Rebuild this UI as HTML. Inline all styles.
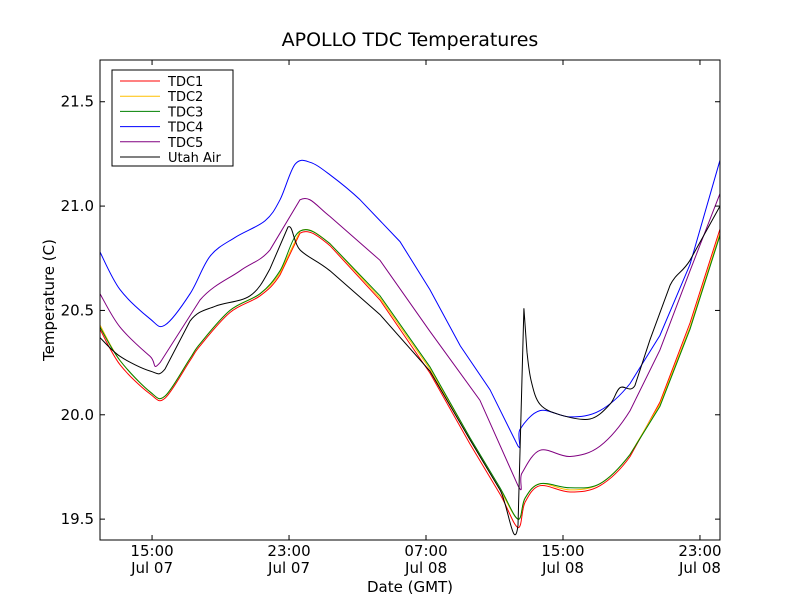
<!DOCTYPE html>
<html><head><meta charset="utf-8"><style>
body{margin:0;background:#fff;font-family:"Liberation Sans","DejaVu Sans",sans-serif}
svg text{font-family:"DejaVu Sans","Liberation Sans",sans-serif}
</style></head><body>
<svg id="chart" width="800" height="600">
<rect width="800" height="600" fill="#fff"/>
<text x="410" y="46" font-size="19" text-anchor="middle">APOLLO TDC Temperatures</text>
<g id="plot"></g>
<rect x="100" y="60" width="620" height="480" fill="none" stroke="#000"/>
<g id="axes"></g>
<text x="410" y="592" font-size="15" text-anchor="middle">Date (GMT)</text>
<text x="54" y="300" font-size="15" text-anchor="middle" transform="rotate(-90 54 300)">Temperature (C)</text>
<g id="legend"></g>
</svg>
<script>
const seriesNames=["TDC1","TDC2","TDC3","TDC4","TDC5","Utah Air"];
const seriesColors=["#ff0000","#ffbf00","#008000","#0000ff","#800080","#000000"];
const hoursA=[11.96,13.13,14.88,15.76,17.22,17.8,19.55,21.31,22.47,23.64,25.39,28.31,31.23,33.57,35.32,36.37,36.78,37.66,39.41,41.16,42.92,44.66,46.42,48.17];
const tdc1=[20.41,20.24,20.1,20.08,20.26,20.33,20.49,20.57,20.67,20.87,20.81,20.55,20.2,19.86,19.62,19.46,19.58,19.66,19.63,19.66,19.8,20.06,20.44,20.89];
const tdc2=[20.43,20.26,20.11,20.09,20.27,20.34,20.5,20.58,20.68,20.88,20.82,20.56,20.22,19.88,19.64,19.5,19.6,19.67,19.64,19.67,19.81,20.05,20.42,20.87];
const tdc3=[20.42,20.26,20.11,20.09,20.27,20.34,20.5,20.58,20.69,20.88,20.82,20.57,20.23,19.89,19.65,19.5,19.6,19.67,19.65,19.67,19.81,20.04,20.41,20.86];
const hoursB=[11.96,13.13,14.88,15.76,17.22,18.39,19.85,21.6,22.47,23.35,24.23,25.39,27.15,29.48,31.23,33,34.74,36.37,36.49,37.66,39.41,41.16,42.92,44.66,46.42,48.17];
const tdc4=[20.78,20.6,20.46,20.43,20.58,20.76,20.85,20.93,21.03,21.2,21.21,21.15,21.03,20.83,20.6,20.33,20.12,19.85,19.93,20.02,19.99,20.02,20.15,20.38,20.72,21.22];
const hoursC=[11.96,13.13,14.88,15.47,17.8,20.14,21.89,23.64,25.39,28.31,31.23,34.15,36.37,36.6,37.66,39.41,41.16,42.92,44.66,46.42,48.17];
const tdc5=[20.58,20.42,20.28,20.25,20.55,20.69,20.79,21.03,20.95,20.74,20.4,20.07,19.66,19.72,19.83,19.8,19.85,20.02,20.31,20.69,21.06];
const hoursD=[11.96,13.13,14.88,15.76,17.22,18.68,20.72,21.89,22.94,23.64,25.39,28.31,31.23,33.57,35.32,36.37,36.72,36.9,37.15,37.66,38.82,40.58,41.74,42.33,43.2,44.08,45.25,46.42,48.17];
const utahAir=[20.37,20.28,20.21,20.22,20.45,20.52,20.57,20.7,20.9,20.79,20.69,20.48,20.21,19.88,19.64,19.47,20.51,20.3,20.16,20.05,20.0,19.98,20.05,20.13,20.14,20.36,20.62,20.74,21.0];
const yTicks=[19.5,20.0,20.5,21.0,21.5];
const xTickHours=[15,23,31,39,47];
const xTickTimes=["15:00","23:00","07:00","15:00","23:00"];
const xTickDates=["Jul 07","Jul 07","Jul 08","Jul 08","Jul 08"];
const X0=100,X1=720,Y0=540,Y1=60,HMIN=11.96,HMAX=48.17,VMIN=19.4,VMAX=21.7;
const sx=h=>X0+(h-HMIN)/(HMAX-HMIN)*(X1-X0);
const sy=v=>Y0-(v-VMIN)/(VMAX-VMIN)*(Y0-Y1);
const NS="http://www.w3.org/2000/svg";
const plot=document.getElementById('plot'),axes=document.getElementById('axes'),legend=document.getElementById('legend');
function mk(t,a,p){const e=document.createElementNS(NS,t);for(const k in a)e.setAttribute(k,a[k]);p.appendChild(e);return e;}
function smooth(P){let d='M'+P[0][0].toFixed(1)+','+P[0][1].toFixed(1);
 for(let i=0;i<P.length-1;i++){const p0=P[Math.max(0,i-1)],p1=P[i],p2=P[i+1],p3=P[Math.min(P.length-1,i+2)];
  const big=Math.abs(p2[1]-p1[1])>40;const k=big?0:1/6;
  const c1=[p1[0]+(p2[0]-p0[0])*k,p1[1]+(p2[1]-p0[1])*k],c2=[p2[0]-(p3[0]-p1[0])*k,p2[1]-(p3[1]-p1[1])*k];
  d+=' C'+c1.map(v=>v.toFixed(1))+' '+c2.map(v=>v.toFixed(1))+' '+p2[0].toFixed(1)+','+p2[1].toFixed(1);}
 return d;}
const data=[[hoursA,tdc1],[hoursA,tdc2],[hoursA,tdc3],[hoursB,tdc4],[hoursC,tdc5],[hoursD,utahAir]];
const order=[3,4,0,1,2,5];
order.forEach(i=>{const [hs,vs]=data[i];
 const pl=mk('path',{d:smooth(hs.map((h,j)=>[sx(h),sy(vs[j])])),fill:'none',stroke:seriesColors[i],'stroke-width':1},plot);
 
 });
yTicks.forEach(v=>{const y=sy(v);
 mk('line',{x1:X0,x2:X0+5,y1:y,y2:y,stroke:'#000'},axes);mk('line',{x1:X1-5,x2:X1,y1:y,y2:y,stroke:'#000'},axes);
 const t=mk('text',{x:X0-6,y:y+5,'font-size':15,'text-anchor':'end'},axes);t.textContent=v.toFixed(1);
 
 });
xTickHours.forEach((h,i)=>{const x=sx(h);
 mk('line',{x1:x,x2:x,y1:Y0,y2:Y0-5,stroke:'#000'},axes);mk('line',{x1:x,x2:x,y1:Y1,y2:Y1+5,stroke:'#000'},axes);
 const t=mk('text',{x:x,y:556,'font-size':15,'text-anchor':'middle'},axes);t.textContent=xTickTimes[i];
 
 
 const d=mk('text',{x:x,y:573,'font-size':15,'text-anchor':'middle'},axes);d.textContent=xTickDates[i];
 
 });
const lb=mk('rect',{x:112,y:70,width:121,height:96,fill:'#fff',stroke:'#000'},legend);


seriesNames.forEach((n,i)=>{const y=81+i*15.2;
 mk('line',{x1:120,x2:160,y1:y,y2:y,stroke:seriesColors[i]},legend);
 const t=mk('text',{x:168,y:y+5,'font-size':13},legend);t.textContent=n;
 
 });
</script>
</body></html>
